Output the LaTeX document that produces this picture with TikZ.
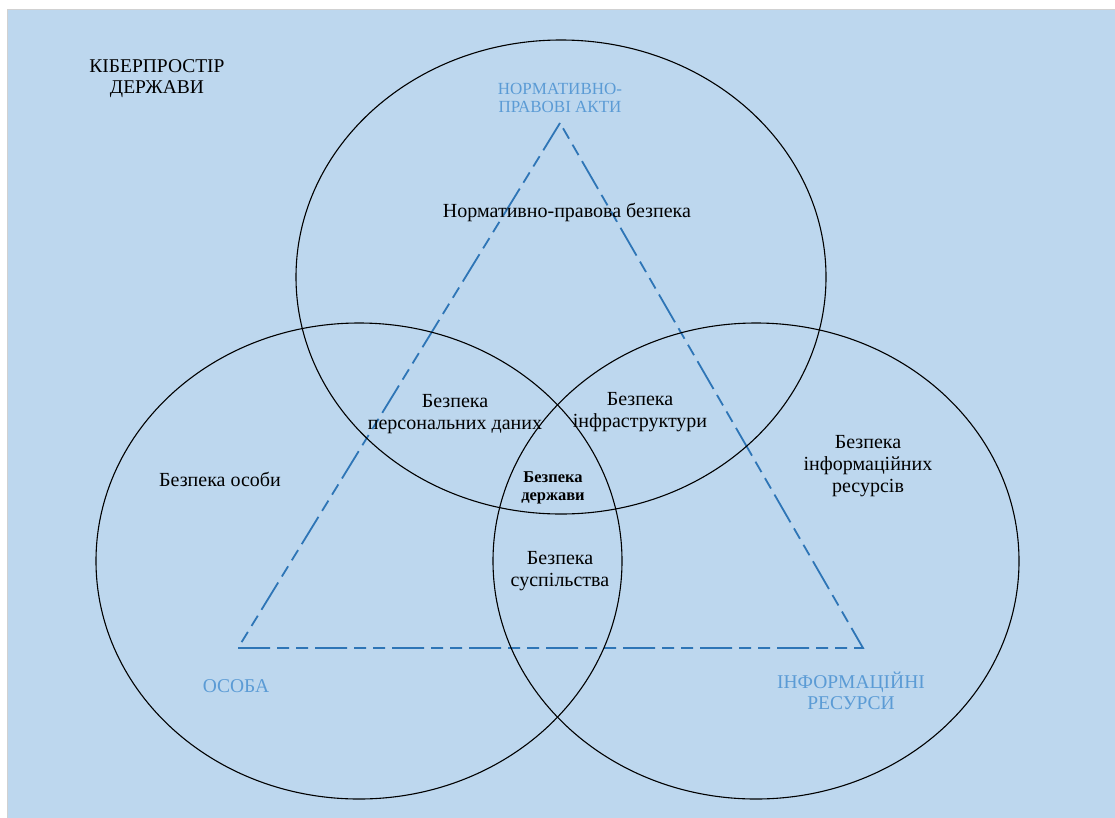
\documentclass[tikz,border=0pt]{standalone}
\usepackage{fontspec}
\setmainfont{Liberation Serif}
\definecolor{bgblue}{HTML}{BDD7EE}
\definecolor{lineblue}{HTML}{2E75B6}
\definecolor{textblue}{HTML}{5B9BD5}
\tikzset{
  zone/.style={draw=black, line width=1.1pt},
  axisline/.style={draw=lineblue, line width=1.8pt, dash pattern=on 32pt off 7pt on 12pt off 7pt on 12pt off 7pt},
  lbl/.style={align=center, inner sep=0pt, font=\fontsize{20}{22}\selectfont},
  core/.style={align=center, inner sep=0pt, font=\fontsize{16.5}{18.5}\selectfont\bfseries},
  pole/.style={align=center, inner sep=0pt, text=textblue, font=\fontsize{19.5}{21}\selectfont},
}

\begin{document}
\begin{tikzpicture}[x=1pt,y=-1pt]
				%%%%% START %%%%%
				\def\rx{263pt}
				\def\ry{238pt}
				\useasboundingbox (0,0) rectangle (1115,817);
				\fill[white] (0,0) rectangle (1115,817);
				\draw[fill=bgblue, draw=black!18, line width=1pt] (7,9) rectangle (1120,822);
				
				\coordinate (apex) at (560,123);
				\coordinate (left) at (238,648);
				\coordinate (right) at (863,648);
				\draw[axisline] (apex) -- (left) -- (right) -- cycle;
				
				\draw[zone] (561,277) ellipse [x radius=265pt, y radius=237pt];
				\draw[zone] (359,561) ellipse [x radius=\rx, y radius=\ry];
				\draw[zone] (756,561) ellipse [x radius=\rx, y radius=\ry];
				
				\node[lbl, font=\fontsize{19.5}{21}\selectfont] (cyber) at (157,79) {КІБЕРПРОСТІР\\ДЕРЖАВИ};
				\node[pole, font=\fontsize{17}{18}\selectfont] (acts) at (560,98) {НОРМАТИВНО-\\ПРАВОВІ АКТИ};
				\node[pole] (person) at (236,686) {ОСОБА};
				\node[pole] (resources) at (851,691) {ІНФОРМАЦІЙНІ\\РЕСУРСИ};
				
				\node[lbl] (legal) at (567,212) {Нормативно-правова безпека};
				\node[lbl] (pdata) at (455,414) {Безпека\\персональних даних};
				\node[lbl] (infra) at (640,412) {Безпека\\інфраструктури};
				\node[lbl] (ires) at (868,466) {Безпека\\інформаційних\\ресурсів};
				\node[lbl] (self) at (220,479) {Безпека особи};
				\node[core] (state) at (553,488) {Безпека\\держави};
				\node[lbl] (society) at (560,571) {Безпека\\суспільства};
				%%%%% END %%%%%
\end{tikzpicture}
\end{document}
